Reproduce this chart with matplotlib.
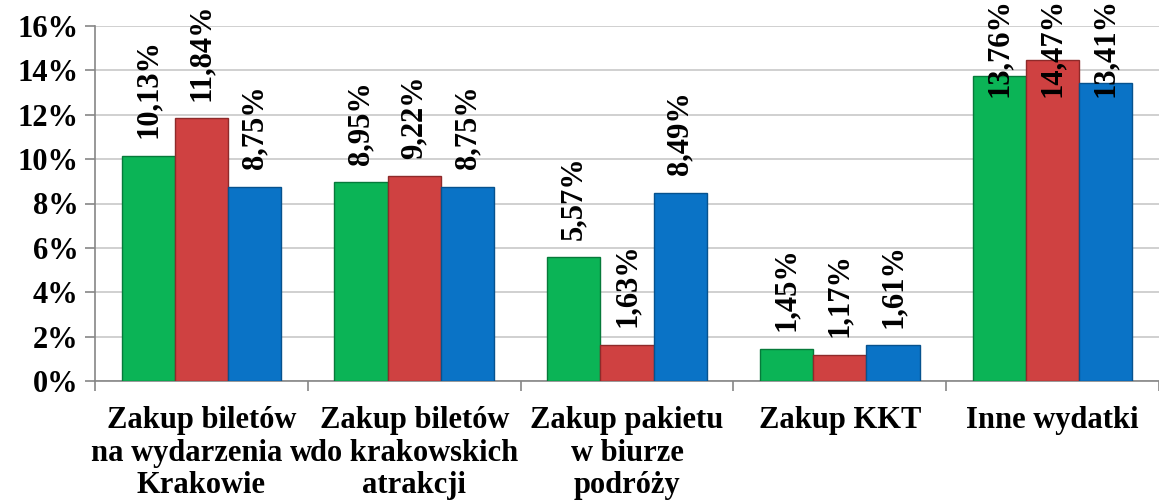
import matplotlib.pyplot as plt
import numpy as np

# data (percent)
categories = ["Zakup biletów\nna wydarzenia w\nKrakowie",
              "Zakup biletów\ndo krakowskich\natrakcji",
              "Zakup pakietu\nw biurze\npodróży",
              "Zakup KKT",
              "Inne wydatki"]
green_vals = [10.13, 8.95, 5.57, 1.45, 13.76]
red_vals = [11.84, 9.22, 1.63, 1.17, 14.47]
blue_vals = [8.75, 8.75, 8.49, 1.61, 13.41]

series = [(green_vals, "#0BB456", "#067A3A"),
          (red_vals, "#CF4141", "#8E2A2A"),
          (blue_vals, "#0A73C6", "#06528E")]

plt.rcParams['font.family'] = ['Liberation Serif', 'DejaVu Serif']
plt.rcParams['font.weight'] = 'bold'

fig = plt.figure(figsize=(11.59, 5.0), dpi=100)
ax = fig.add_axes([0.082, 0.238, 0.918, 0.71])

x = np.arange(len(categories))
width = 0.25

def fmt(v):
    return f"{v:.2f}%".replace(".", ",")

for i, (vals, color, edge) in enumerate(series):
    pos = x + (i - 1) * width
    ax.bar(pos, vals, width, color=color, edgecolor=edge, linewidth=1.0, zorder=3)
    for p, v in zip(pos, vals):
        ax.text(p, min(v + 0.8, 12.8), fmt(v), rotation=90, ha='center', va='bottom',
                fontsize=22, fontweight='bold', zorder=5)

ax.set_ylim(0, 16)
ax.set_xlim(-0.5, len(categories) - 0.5)
ax.set_yticks(np.arange(0, 17, 2))
ax.set_yticklabels([f"{t}%" for t in range(0, 17, 2)], fontsize=22, fontweight='bold')
ax.yaxis.grid(True, color="#C8C8C8", linewidth=1.2, zorder=0)

ax.set_xticks(x)
ax.set_xticklabels(categories, fontsize=22, fontweight='bold', linespacing=1.17)
ax.set_xticks(np.arange(-0.5, len(categories)), minor=True)
ax.tick_params(axis='x', which='major', length=0, pad=18)
ax.tick_params(axis='x', which='minor', length=7, color="#868686", width=1.2)
ax.tick_params(axis='y', length=7, color="#868686", width=1.2, pad=5)

for s in ['top', 'right']:
    ax.spines[s].set_visible(False)
for s in ['left', 'bottom']:
    ax.spines[s].set_color("#868686")
    ax.spines[s].set_linewidth(1.2)

fig.savefig("out.png", dpi=100)
